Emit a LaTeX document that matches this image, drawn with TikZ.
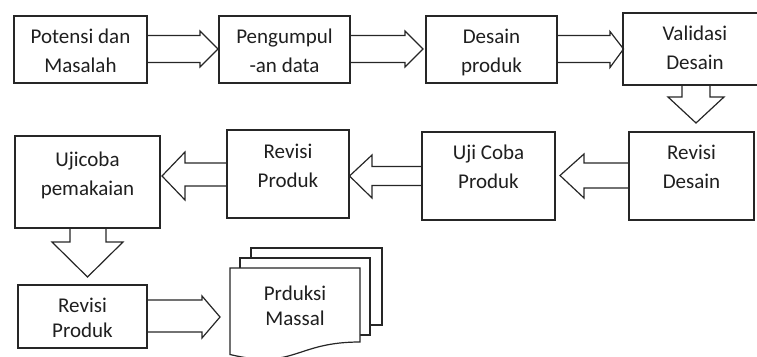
\documentclass[tikz,border=0pt]{standalone}
\usepackage{fontspec}
\setmainfont{Carlito}
\usetikzlibrary{calc}
\begin{document}
\begin{tikzpicture}[x=1pt,y=-1pt,line width=1.2pt,
  box/.style={draw=black!85,fill=white,rectangle,inner sep=0pt},
  lbl/.style={anchor=north,inner sep=0pt,align=center,text=black!88,font=\fontsize{21}{29}\selectfont},
  lbltight/.style={anchor=north,inner sep=0pt,align=center,text=black!88,font=\fontsize{21}{25}\selectfont},
  barrow/.style={draw=black!85,line join=miter},
  sheet/.style={draw=black!85,fill=white,line join=miter}]
\clip (0,0) rectangle (757,356);
% boxes
\node[box,minimum width=133pt,minimum height=67pt] (b1) at (80.5,49.5) {};
\node[box,minimum width=131pt,minimum height=67pt] (b2) at (284.5,49.5) {};
\node[box,minimum width=131pt,minimum height=67pt] (b3) at (491.5,49.5) {};
\node[box,minimum width=144pt,minimum height=72pt] (b4) at (695,49) {};
\node[box,minimum width=125pt,minimum height=88pt] (b5) at (691.5,176) {};
\node[box,minimum width=133pt,minimum height=88pt] (b6) at (488.5,176) {};
\node[box,minimum width=122pt,minimum height=88pt] (b7) at (288,174) {};
\node[box,minimum width=145pt,minimum height=92pt] (b8) at (87.5,182) {};
\node[box,minimum width=129pt,minimum height=63pt] (b9) at (82.5,316.5) {};
% multidocument
\draw[sheet] (251,248) rectangle (382,325);
\draw[sheet] (240,258) rectangle (370,335);
\draw[sheet] (230,268) -- (360,268) -- (360,342) .. controls (295,342) and (295,370) .. (230,354.5) -- cycle;
\coordinate (doc) at (230,317);
% labels
\node[lbl] (t1) at (80.5,22.7) {\strut Potensi dan\\Masalah};
\node[lbl] (t2) at (284.5,22.7) {\strut Pengumpul\\-an data};
\node[lbl] (t3) at (491.5,22.7) {\strut Desain\\produk};
\node[lbl] (t4) at (695,19.7) {\strut Validasi\\Desain};
\node[lbl] (t5) at (691.5,138.7) {\strut Revisi\\Desain};
\node[lbl] (t6) at (488.5,138.7) {\strut Uji Coba\\Produk};
\node[lbl] (t7) at (288,137.7) {\strut Revisi\\Produk};
\node[lbl] (t8) at (87.5,145.7) {\strut Ujicoba\\pemakaian};
\node[lbltight] (t9) at (82.5,294.5) {\strut Revisi\\Produk};
\node[lbltight] (t10) at (295,282.5) {\strut Prduksi\\Massal};
% block arrows
\draw[barrow] (b1.east |- 0,35.5) -- (200,35.5) -- (200,31) -- (218,49) -- (200,67) -- (200,62.5) -- (b1.east |- 0,62.5);
\draw[barrow] (b2.east |- 0,35.5) -- (405,35.5) -- (405,31) -- (423,49) -- (405,67) -- (405,62.5) -- (b2.east |- 0,62.5);
\draw[barrow] (b3.east |- 0,35.5) -- (610,35.5) -- (610,31.5) -- (623.5,49) -- (610,67.5) -- (610,62.5) -- (b3.east |- 0,62.5);
\draw[barrow] (682,0 |- b4.south) -- (682,97) -- (668,97) -- (696,123) -- (724,97) -- (710,97) -- (710,0 |- b4.south);
\draw[barrow] (b5.west |- 0,163) -- (584,163) -- (584,154) -- (560,175.5) -- (584,198) -- (584,188) -- (b5.west |- 0,188);
\draw[barrow] (b6.west |- 0,166.5) -- (372,166.5) -- (372,155) -- (349.5,176) -- (372,198) -- (372,185.5) -- (b6.west |- 0,185.5);
\draw[barrow] (b7.west |- 0,163) -- (185,163) -- (185,152) -- (162,176) -- (185,200) -- (185,186) -- (b7.west |- 0,186);
\draw[barrow] (70,0 |- b8.south) -- (70,242) -- (52,242) -- (87.5,277) -- (123,242) -- (106,242) -- (106,0 |- b8.south);
\draw[barrow] (b9.east |- 0,300) -- (202,300) -- (202,296) -- (220,317) -- (202,338) -- (202,332) -- (b9.east |- 0,332);
\end{tikzpicture}
\end{document}
